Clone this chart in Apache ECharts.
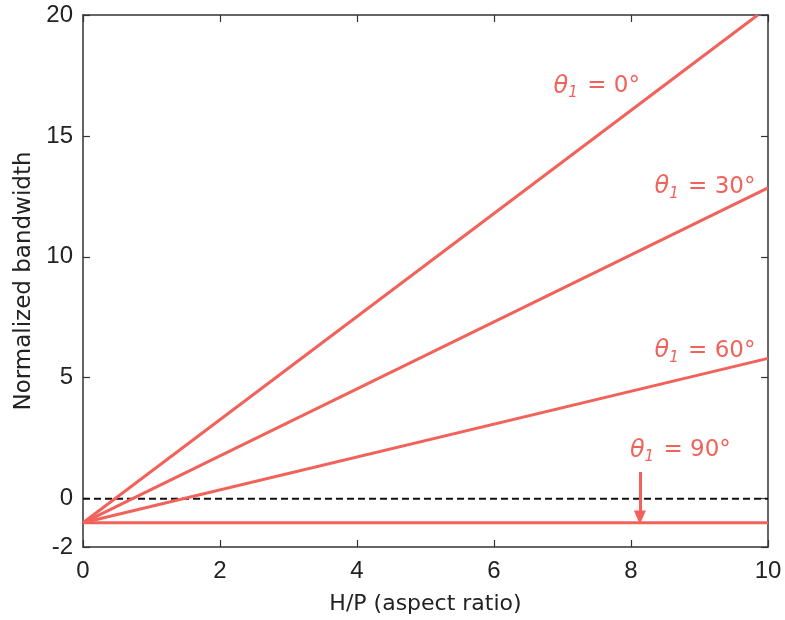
<!DOCTYPE html>
<html><head><meta charset="utf-8">
<script src="https://cdn.jsdelivr.net/npm/echarts@6/dist/echarts.min.js"></script>
<style>html,body{margin:0;padding:0;background:#fff}#c{width:785px;height:620px}</style>
</head><body><div id="c"></div>
<script>
// Data
const theta0 = [[0, -1], [9.85, 20]];
const theta30 = [[0, -1], [10, 12.85]];
const theta60 = [[0, -1], [10, 5.8]];
const theta90 = [[0, -1], [10, -1]];
const zeroLine = [[0, 0], [10, 0]];
const xTicks = [0, 2, 4, 6, 8, 10];
const yTicks = [-2, 0, 5, 10, 15, 20];
const labelTexts = ['0°', '30°', '60°', '90°'];
const labelPos = [[7.5, 17.05], [9.08, 12.9], [9.08, 6.1], [8.72, 2.0]];
const arrowPts = [[8.13, 1.1], [8.13, -0.78]];

const RED = '#f0625a';
const AX = '#333';
const FONT = 'Liberation Sans, Arial, sans-serif';
const NFONT = 'DejaVu Sans, sans-serif';

const chart = echarts.init(document.getElementById('c'), null, {renderer: 'canvas'});

function lineSeries(data, name) {
  return {type: 'line', name, data, showSymbol: false, symbol: 'none', clip: true,
    lineStyle: {color: RED, width: 3}, z: 3, silent: true};
}
const axisCommon = {
  min: 0, max: 10, interval: 2,
  axisLine: {show: true, onZero: false, lineStyle: {color: AX, width: 1.5}},
  axisTick: {show: true, inside: true, length: 7, lineStyle: {color: AX, width: 1.2}},
  splitLine: {show: false}
};

const option = {
  backgroundColor: '#fff',
  animation: false,
  grid: {left: 83, right: 17, top: 15, bottom: 67, containLabel: false},
  xAxis: [
    Object.assign({}, axisCommon, {
      type: 'value', position: 'bottom',
      axisTick: Object.assign({}, axisCommon.axisTick, {customValues: xTicks}),
      axisLabel: {customValues: xTicks, color: '#222', fontSize: 24, fontFamily: FONT, margin: 12},
      name: 'H/P (aspect ratio)', nameLocation: 'middle', nameGap: 46,
      nameTextStyle: {color: '#222', fontSize: 22, fontFamily: NFONT}
    }),
    Object.assign({}, axisCommon, {
      type: 'value', position: 'top',
      axisTick: Object.assign({}, axisCommon.axisTick, {customValues: xTicks}),
      axisLabel: {show: false}
    })
  ],
  yAxis: [
    {
      type: 'value', min: -2, max: 20, position: 'left',
      axisLine: {show: true, onZero: false, lineStyle: {color: AX, width: 1.5}},
      axisTick: {show: true, inside: true, length: 7, customValues: yTicks, lineStyle: {color: AX, width: 1.2}},
      axisLabel: {customValues: yTicks, color: '#222', fontSize: 24, fontFamily: FONT, margin: 10},
      splitLine: {show: false},
      name: 'Normalized bandwidth', nameLocation: 'middle', nameGap: 46,
      nameTextStyle: {color: '#222', fontSize: 23, fontFamily: NFONT}
    },
    {
      type: 'value', min: -2, max: 20, position: 'right',
      axisLine: {show: true, onZero: false, lineStyle: {color: AX, width: 1.5}},
      axisTick: {show: true, inside: true, length: 7, customValues: yTicks, lineStyle: {color: AX, width: 1.2}},
      axisLabel: {show: false},
      splitLine: {show: false}
    }
  ],
  series: [
    {type: 'line', data: zeroLine, symbol: 'none', silent: true, z: 2,
      lineStyle: {color: '#111', width: 2, type: [7, 4]}},
    lineSeries(theta0, 't0'),
    lineSeries(theta30, 't30'),
    lineSeries(theta60, 't60'),
    Object.assign(lineSeries(theta90, 't90'), {
      markLine: {
        silent: true, symbol: ['none', 'triangle'], symbolSize: [12, 14],
        lineStyle: {color: RED, width: 3, type: 'solid'},
        label: {show: false},
        data: [[{coord: arrowPts[0]}, {coord: arrowPts[1]}]]
      }
    }),
    {
      type: 'scatter', symbolSize: 0, silent: true, z: 5,
      itemStyle: {opacity: 1},
      data: labelPos.map((p, i) => ({value: p, txt: labelTexts[i]})),
      label: {
        show: true, position: 'inside', opacity: 1,
        formatter: p => '{th|θ}{sub|1}{eq| = ' + p.data.txt + '}',
        rich: {
          th: {color: RED, fontSize: 24, fontStyle: 'italic', fontFamily: NFONT},
          sub: {color: RED, fontSize: 15, fontStyle: 'italic', fontFamily: NFONT, padding: [14, 2, 0, 0]},
          eq: {color: RED, fontSize: 23, fontFamily: NFONT}
        }
      }
    }
  ]
};
chart.setOption(option);
</script></body></html>
